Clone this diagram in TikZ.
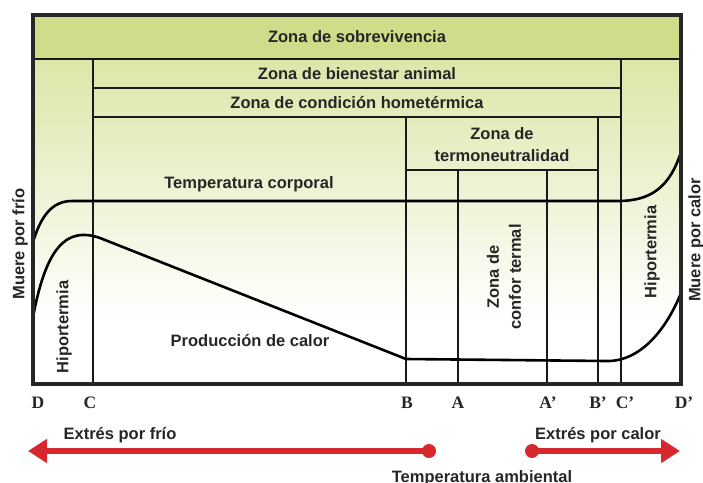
\documentclass[tikz,border=0pt]{standalone}
\usepackage{fontspec}
\setmainfont{Liberation Sans}
\newfontfamily\serifb{Liberation Serif}
\usetikzlibrary{arrows.meta}
\definecolor{bandgreen}{RGB}{207,220,138}
\definecolor{lightgreen}{RGB}{220,230,168}
\definecolor{redarr}{RGB}{214,40,46}
\begin{document}
\begin{tikzpicture}[x=1pt,y=-1pt,
  ztext/.style={font=\bfseries\fontsize{16.5}{22}\selectfont, inner sep=0pt, text=black!85},
  letter/.style={font=\serifb\bfseries\fontsize{17.5}{20}\selectfont, inner sep=0pt, text=black!85},
  innerline/.style={line width=1.5pt, black!90},
  outerline/.style={line width=4pt, black!85},
  curve/.style={line width=2.6pt, black, line join=round},
  redline/.style={line width=5.5pt, redarr, -{Triangle[length=19pt,width=23pt]}},
  reddot/.style={circle, fill=redarr, inner sep=0pt, minimum size=14pt}]
\useasboundingbox (0,0) rectangle (703,482);
% backgrounds
\fill[bandgreen] (33,15) rectangle (681,59);
\shade[top color=lightgreen, bottom color=white] (33,59) rectangle (681,320);
% zone lines
\draw[line width=2.2pt, black!90] (33,59) -- (681,59);
\draw[innerline] (93,59) -- (93,384);
\draw[innerline] (621,59) -- (621,384);
\draw[innerline] (93,88) -- (621,88);
\draw[innerline] (93,117) -- (621,117);
\draw[innerline] (406,117) -- (406,384);
\draw[innerline] (598,117) -- (598,384);
\draw[innerline] (406,170) -- (598,170);
\draw[innerline] (458,170) -- (458,384);
\draw[innerline] (547,170) -- (547,384);
% curves
\draw[curve] (33,242) .. controls (41,216) and (52,201) .. (72,201) -- (618,201)
  .. controls (652,201) and (670,186) .. (681,152);
\draw[curve] (33,317) .. controls (46,248) and (66,226) .. (100,238) -- (406,359) -- (606,361)
  .. controls (640,362) and (666,330) .. (681,293);
% outer frame
\draw[outerline] (33,15) rectangle (681,384);
% texts
\node[ztext] (sob) at (357,37) {Zona de sobrevivencia};
\node[ztext] (bien) at (357,74) {Zona de bienestar animal};
\node[ztext] (cond) at (357,103) {Zona de condición hometérmica};
\node[ztext, align=center] (termo) at (502,145) {Zona de\\termoneutralidad};
\node[ztext] (tcorp) at (249,184) {Temperatura corporal};
\node[ztext] (prod) at (250,341) {Producción de calor};
\node[ztext, rotate=90, align=center] (confor) at (504,277) {Zona de\\confor termal};
\node[ztext, rotate=90] (hipoL) at (64,327) {Hiportermia};
\node[ztext, rotate=90] (hipoR) at (652,252) {Hiportermia};
\node[ztext, rotate=90] (mfrio) at (20,244) {Muere por frío};
\node[ztext, rotate=90] (mcalor) at (696,240) {Muere por calor};
% letters
\node[letter] (lD) at (38,403) {D};
\node[letter] (lC) at (90,403) {C};
\node[letter] (lB) at (407,403) {B};
\node[letter] (lA) at (458,403) {A};
\node[letter] (lA2) at (548,403) {A’};
\node[letter] (lB2) at (598,403) {B’};
\node[letter] (lC2) at (625,403) {C’};
\node[letter] (lD2) at (684,403) {D’};
% stress arrows
\node[reddot] (ldot) at (429,451) {};
\coordinate (ltip) at (28,451);
\draw[redline] (ldot.center) -- (ltip);
\node[reddot] (rdot) at (532,451) {};
\coordinate (rtip) at (680,451);
\draw[redline] (rdot.center) -- (rtip);
\node[ztext] (efrio) at (120,435) {Extrés por frío};
\node[ztext] (ecalor) at (598,435) {Extrés por calor};
\node[ztext, anchor=base] (tamb) at (482,482) {Temperatura ambiental};
\end{tikzpicture}
\end{document}
